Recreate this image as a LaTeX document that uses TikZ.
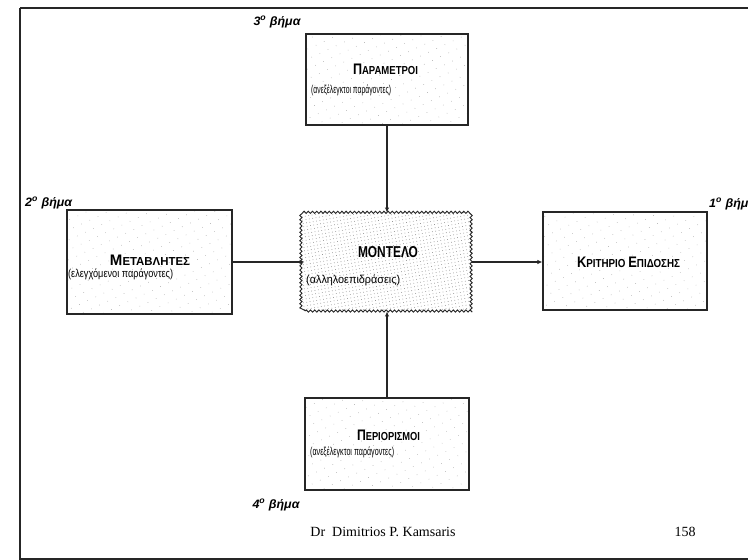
\documentclass[tikz,border=0pt]{standalone}
\usepackage{fontspec}
\usepackage{graphicx}
\setmainfont{Liberation Serif}
\newfontfamily\narrowsans{Liberation Sans}
\usetikzlibrary{decorations.pathmorphing,patterns.meta,arrows.meta}

% small-caps look: a large initial followed by smaller capitals
\newcommand\initcap[1]{{\fontsize{12.5}{13}\selectfont #1}}
\newcommand\restcap[1]{{\fontsize{9.5}{11}\selectfont #1}}
% set a text to a given width and cap height
\newcommand\fitcaps[3]{\resizebox{#1}{#2}{#3}}
% set a text to a given width and total height (parentheses, descenders)
\newcommand\fittotal[3]{\resizebox*{#1}{#2}{#3}}

\tikzset{
  stage/.style={draw=black!85, line width=1.1pt, minimum width=#1, inner sep=0pt,
    pattern={Dots[distance=9pt, radius=0.35pt, angle=25]}, pattern color=black!45},
  core/.style={draw=black!85, line width=0.9pt, inner sep=0pt,
    minimum width=167pt, minimum height=98pt,
    decorate, decoration={snake, segment length=4.2pt, amplitude=1.1pt},
    pattern={Dots[distance=3.4pt, radius=0.4pt, angle=10]}, pattern color=black!55},
  title/.style={font=\narrowsans\bfseries, inner sep=0pt},
  subtitle/.style={font=\narrowsans, inner sep=0pt, anchor=west},
  steplabel/.style={font=\narrowsans\bfseries\itshape, inner sep=0pt},
  footer/.style={font=\fontsize{14}{16}\selectfont, inner sep=0pt},
  link/.style={line width=1.1pt, draw=black!85,
    -{Latex[length=5pt, width=4.5pt]}},
}

\begin{document}
\begin{tikzpicture}[x=1pt, y=-1pt]
  \useasboundingbox (0,0) rectangle (748,560);
  \fill[white] (0,0) rectangle (748,560);

  % page frame
  \draw[line width=1.6pt, black!85] (20,8) -- (760,8);
  \draw[line width=1.6pt, black!85] (20,8) -- (20,559) -- (760,559);

  % boxes
  \node[stage=162pt, minimum height=91pt] (par) at (387,79.5) {};
  \node[stage=165pt, minimum height=104pt] (var) at (149.5,262) {};
  \node[core] (model) at (388.5,262) {};
  \node[stage=164pt, minimum height=98pt] (crit) at (625,261) {};
  \node[stage=164pt, minimum height=92pt] (con) at (387,444) {};

  % box texts
  \node[title] (partitle) at (385.5,69)
    {\fitcaps{65pt}{10.5pt}{\initcap{Π}\restcap{ΑΡΑΜΕΤΡΟΙ}}};
  \node[subtitle] (parsub) at (311,90)
    {\fittotal{80pt}{11pt}{(ανεξέλεγκτοι παράγοντες)}};

  \node[title] (vartitle) at (150,260)
    {\fitcaps{80pt}{10.5pt}{\initcap{Μ}\restcap{ΕΤΑΒΛΗΤΕΣ}}};
  \node[subtitle] (varsub) at (68,274)
    {\fittotal{105pt}{11pt}{(ελεγχόμενοι παράγοντες)}};

  \node[title] (modeltitle) at (388,252)
    {\fitcaps{60pt}{11pt}{ΜΟΝΤΕΛΟ}};
  \node[subtitle] (modelsub) at (306,280)
    {\fittotal{94pt}{11pt}{(αλληλοεπιδράσεις)}};

  \node[title] (crittitle) at (628.5,262)
    {\fitcaps{103pt}{10.5pt}{\initcap{Κ}\restcap{ΡΙΤΗΡΙΟ} \initcap{Ε}\restcap{ΠΙΔΟΣΗΣ}}};

  \node[title] (contitle) at (388.5,435)
    {\fitcaps{63pt}{10.5pt}{\initcap{Π}\restcap{ΕΡΙΟΡΙΣΜΟΙ}}};
  \node[subtitle] (consub) at (310,452)
    {\fittotal{84pt}{11pt}{(ανεξέλεγκτοι παράγοντες)}};

  % step labels
  \node[steplabel] (s3) at (277,22) {\fittotal{47pt}{11.5pt}{3\textsuperscript{ο} βήμα}};
  \node[steplabel, anchor=west] (s2) at (25,203) {\fittotal{47pt}{11.5pt}{2\textsuperscript{ο} βήμα}};
  \node[steplabel, anchor=west] (s1) at (709,204) {\fittotal{47pt}{11.5pt}{1\textsuperscript{ο} βήμα}};
  \node[steplabel] (s4) at (276,505) {\fittotal{47pt}{11.5pt}{4\textsuperscript{ο} βήμα}};

  % connectors
  \draw[link] (var.east) -- (model.west);
  \draw[link] (model.east) -- (model.east -| crit.west);
  \draw[link] (par.south) -- (par.south |- model.north);
  \draw[link] (con.north) -- (con.north |- model.south);

  % footer
  \node[footer] (author) at (383,532) {Dr\ \ Dimitrios P. Kamsaris};
  \node[footer] (pagenum) at (685,532) {158};
\end{tikzpicture}
\end{document}
